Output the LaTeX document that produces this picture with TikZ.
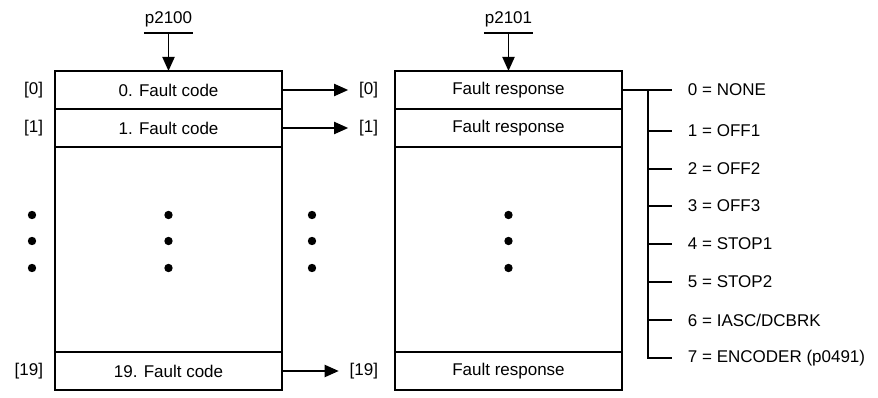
\documentclass[tikz,border=0pt]{standalone}
\usepackage{fontspec}
\setmainfont{Liberation Sans}
\usetikzlibrary{arrows.meta,positioning}

\begin{document}
\begin{tikzpicture}[x=1pt,y=-1pt,line width=1.9pt,every node/.style={font=\fontsize{17}{20}\selectfont,align=center},
  cell/.style={draw,minimum width=227pt,minimum height=38pt,inner sep=0pt,outer sep=0pt},
  gap/.style={cell,minimum height=205pt},
  idx/.style={inner sep=0pt},
  opt/.style={inner sep=0pt,anchor=west},
  par/.style={inner xsep=0pt,inner ysep=5pt,anchor=south},
  feed/.style={-{Triangle[length=14pt,width=12pt]}}]
\useasboundingbox (0,0) rectangle (878,398);
% fault codes
\node[cell] (c0) at (168.5,90) {0. Fault code};
\node[cell,below=0pt of c0] (c1) {1. Fault code};
\node[gap,below=0pt of c1] (cm) {};
\node[cell,below=0pt of cm] (c19) {19. Fault code};
% fault responses
\node[cell] (r0) at (508.5,90) {Fault response};
\node[cell,below=0pt of r0] (r1) {Fault response};
\node[gap,below=0pt of r1] (rm) {};
\node[cell,below=0pt of rm] (r19) {Fault response};
% indices
\foreach \i in {0,1,19}{
  \node[idx,left=11pt of c\i] (lc\i) {[\i]};
  \node[idx,left=16pt of r\i] (lr\i) {[\i]};
  \draw[feed,shorten >=10pt] (c\i) -- (lr\i.west);
}
% parameters
\node[par] (p0) at (168.5,33) {p2100};
\node[par] (p1) at (508.5,33) {p2101};
\draw (p0.south west) -- (p0.south east);\draw (p1.south west) -- (p1.south east);
\draw[feed] (p0.south) -- (c0.north);\draw[feed] (p1.south) -- (r0.north);
% dots
\foreach \x in {32,168.5,312,508.5}
  \foreach \y in {215,241,268} \fill (\x,\y) circle (4.2);
% responses
\foreach \i/\y/\t in {0/90/{0 = NONE},1/131/{1 = OFF1},2/169/{2 = OFF2},3/206/{3 = OFF3},4/244/{4 = STOP1},5/282/{5 = STOP2},6/320/{6 = IASC/DCBRK},7/358/{7 = ENCODER (p0491)}}
  \node[opt] (o\i) at (687,\y) {\t};
\coordinate (trunk) at (648,90);
\draw[shorten >=15pt] (r0.east) -- (o0.west);
\draw[shorten >=15pt] (trunk) |- (o7.west);
\foreach \i in {1,...,6} \draw[shorten >=15pt] (o\i.west -| trunk) -- (o\i.west);
\end{tikzpicture}
\end{document}
